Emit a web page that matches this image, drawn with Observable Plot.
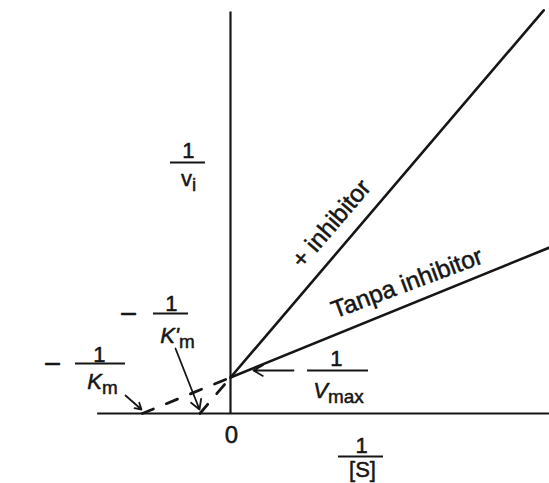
<!DOCTYPE html>
<html>
<head>
<meta charset="utf-8">
<script src="https://cdn.jsdelivr.net/npm/d3@7"></script>
<script src="https://cdn.jsdelivr.net/npm/@observablehq/plot@0.6"></script>
<style>
  html, body { margin: 0; padding: 0; background: #fff; }
  #chart svg { display: block; }
</style>
</head>
<body>
<div id="chart"></div>
<script>
// Lineweaver–Burk plot: 1/v versus 1/[S], with and without inhibitor
const lineNames   = ["Tanpa inhibitor", "+ inhibitor"];
const xIntercepts = [-2.45, -0.85];   // −1/Km and −1/K'm
const yIntercept  = 1;                // 1/Vmax, shared by both lines
const xEnds       = [8.86, 8.7];
const yEnds       = [4.61, 11.2];
const xAxisExtent = [-3.69, 8.86];
const yAxisExtent = [0, 11.15];

// measured part of each line (from the y-intercept outwards)
const solid = lineNames.flatMap((name, i) => [
  {name, x: 0, y: yIntercept},
  {name, x: xEnds[i], y: yEnds[i]}
]);
// extrapolation back to the x-axis
const dashed = lineNames.flatMap((name, i) => [
  {name, x: xIntercepts[i], y: 0},
  {name, x: 0, y: yIntercept}
]);

// fraction labels; "_" marks the start of a subscript
const fractions = [
  {den: "v_i",   xNum: -1.167, yNum: 7.111, x1: -1.667, x2: -0.694, yBar: 6.972, xDen: -1.167, yDen: 6.333, italic: false},
  {den: "K'_m",  xNum: -1.639, yNum: 2.86,  x1: -2.139, x2: -1.167, yBar: 2.778, xDen: -1.472, yDen: 1.972, italic: true},
  {den: "K_m",   xNum: -3.639, yNum: 1.444, x1: -4.306, x2: -2.917, yBar: 1.389, xDen: -3.556, yDen: 0.694, italic: true},
  {den: "V_max", xNum: 2.944,  yNum: 1.333, x1: 2.139,  x2: 3.833,  yBar: 1.194, xDen: 3.0,    yDen: 0.444, italic: true},
  {den: "[S]",   xNum: 3.639,  yNum: -1.111, x1: 3.0,   x2: 4.25,   yBar: -1.194, xDen: 3.667, yDen: -1.75, italic: false}
];
const minuses = [
  {x: -2.833, y: 2.5},
  {x: -4.944, y: 1.11}
];
const arrows = [
  {x1: -2.917, y1: 0.5,   x2: -2.472, y2: 0.111},
  {x1: -1.528, y1: 1.806, x2: -0.861, y2: 0.111},
  {x1: 1.75,   y1: 1.194, x2: 0.639,  y2: 1.194}
];
const lineLabels = [
  {text: lineNames[0], x: 4.9, y: 3.62, rotate: -20.5},
  {text: lineNames[1], x: 2.8, y: 5.27, rotate: -49.5}
];

const ink = "#161616";
const font = "Liberation Sans, Arial, Helvetica, sans-serif";
// scanned-print look: a hairline outline makes the glyphs a little heavier
const heavy = {fill: ink, stroke: ink, strokeWidth: 0.5};

const chart = Plot.plot({
  width: 549,
  height: 483,
  margin: 0,
  style: {background: "#fff", fontFamily: font, color: ink},
  x: {domain: [-230 / 36, 319 / 36], axis: null},
  y: {domain: [-70 / 36, 413 / 36], axis: null},
  marks: [
    // axes
    Plot.ruleY([0], {x1: xAxisExtent[0], x2: xAxisExtent[1], stroke: ink, strokeWidth: 2.2}),
    Plot.ruleX([0], {y1: yAxisExtent[0], y2: yAxisExtent[1], stroke: ink, strokeWidth: 2.2}),
    // lines
    Plot.line(dashed, {x: "x", y: "y", z: "name", stroke: ink, strokeWidth: 2.8, strokeDasharray: "12,14"}),
    Plot.line(solid, {x: "x", y: "y", z: "name", stroke: ink, strokeWidth: 2.6}),
    // pointer arrows
    Plot.arrow(arrows, {x1: "x1", y1: "y1", x2: "x2", y2: "y2", stroke: ink, strokeWidth: 1.8, headLength: 9}),
    // fractions
    Plot.ruleY(fractions, {y: "yBar", x1: "x1", x2: "x2", stroke: ink, strokeWidth: 2}),
    Plot.text(fractions, {x: "xNum", y: "yNum", text: () => "1", fontSize: 22, lineAnchor: "bottom", ...heavy}),
    Plot.text(fractions.filter(d => !d.italic), {x: "xDen", y: "yDen", text: "den", fontSize: 22, lineAnchor: "bottom", ...heavy}),
    Plot.text(fractions.filter(d => d.italic), {x: "xDen", y: "yDen", text: "den", fontSize: 22, fontStyle: "italic", lineAnchor: "bottom", ...heavy}),
    Plot.text(minuses, {x: "x", y: "y", text: () => "\u2212", fontSize: 30, lineAnchor: "bottom", ...heavy}),
    // origin
    Plot.text([0], {x: 0.028, y: -0.833, text: () => "0", fontSize: 24, lineAnchor: "bottom", ...heavy}),
    // line labels
    Plot.text(lineLabels, {x: "x", y: "y", text: "text", rotate: "rotate", fontSize: 24.5, ...heavy})
  ]
});

// turn "main_sub" labels into text with a lowered, upright subscript
d3.select(chart).selectAll("text").each(function () {
  const s = this.textContent;
  const k = s.indexOf("_");
  if (k < 0) return;
  const el = d3.select(this).text(null);
  el.append("tspan").text(s.slice(0, k));
  el.append("tspan")
    .attr("dy", "0.28em")
    .attr("font-size", "86%")
    .attr("font-style", "normal")
    .text(s.slice(k + 1));
});

document.getElementById("chart").append(chart);
</script>
</body>
</html>
